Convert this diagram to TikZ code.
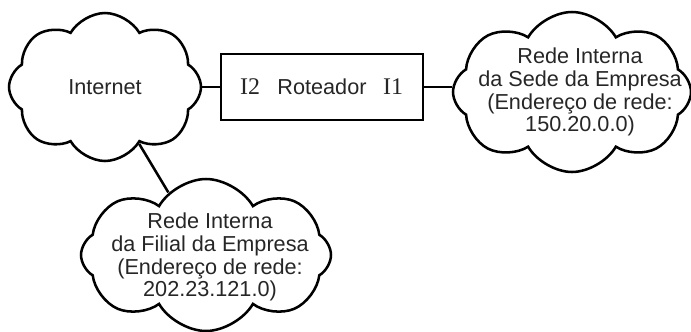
\documentclass[tikz,border=0pt]{standalone}
\usepackage{fontspec}
\setmainfont{Liberation Sans}
\newfontfamily\serifrot{Liberation Serif}
\usetikzlibrary{shapes.symbols, positioning}
\tikzset{
  nuvem/.style={cloud, cloud puffs=8, cloud puff arc=120, cloud ignores aspect, draw, line width=1.8pt, inner sep=0pt},
  caixa/.style={rectangle, draw, line width=1.8pt, minimum width=202*0.025cm, minimum height=66*0.025cm},
  rotulo/.style={align=center, text=black!85, font=\fontsize{15.4}{16.2}\selectfont},
  ligacao/.style={line width=1.8pt}
}

\begin{document}
\begin{tikzpicture}[x=0.025cm, y=-0.025cm]
\useasboundingbox (0,0) rectangle (691,331);

% Clouds
\node[nuvem, minimum width=192*0.025cm, minimum height=148*0.025cm] (internet) at (105,87) {};
\node[nuvem, minimum width=238*0.025cm, minimum height=160*0.025cm] (sede) at (572,92) {};
\node[nuvem, minimum width=250*0.025cm, minimum height=152*0.025cm] (filial) at (206,255) {};

% Cloud texts
\node[rotulo] (txtinternet) at (internet.center) {Internet};
\node[rotulo] (txtsede) at (580,92) {Rede Interna\\da Sede da Empresa\\(Endereço de rede:\\150.20.0.0)};
\node[rotulo] (txtfilial) at (210,257) {Rede Interna\\da Filial da Empresa\\(Endereço de rede:\\202.23.121.0)};

% Router
\node[caixa] (roteador) at (322,87) {};
\node[rotulo] (rot) at (roteador.center) {Roteador};
\node[rotulo, font=\fontsize{17}{17}\serifrot] (ifdois) at (250,87) {I2};
\node[rotulo, font=\fontsize{17}{17}\serifrot] (ifum) at (393,87) {I1};

% Links
\draw[ligacao] (internet.east) -- (roteador.west);
\draw[ligacao] (roteador.east) -- (sede.west |- roteador.east);
\draw[ligacao] (internet) -- (filial);
\end{tikzpicture}
\end{document}
